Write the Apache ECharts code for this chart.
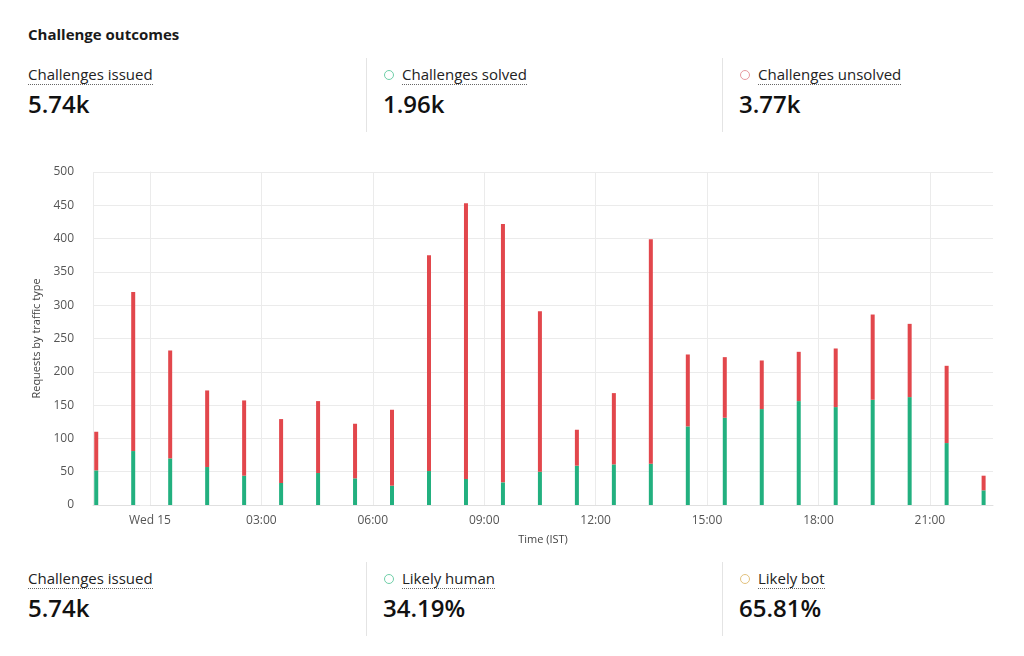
<!DOCTYPE html>
<html>
<head>
<meta charset="utf-8">
<script src="https://cdn.jsdelivr.net/npm/echarts@6.0.0/dist/echarts.min.js"></script>
<style>
  html, body { margin: 0; padding: 0; background: #fff; }
  body { width: 1024px; height: 656px; position: relative; overflow: hidden;
         font-family: "Open Sans", "Noto Sans", sans-serif; color: #1a1a1a; }
  .title { position: absolute; left: 28px; top: 25px; font-size: 15px; line-height: 18px; font-weight: 700; }
  .lbl { position: absolute; font-size: 15px; line-height: 18px; color: #222;
         border-bottom: 1px dotted #666; padding-bottom: 1px; white-space: nowrap; }
  .val { position: absolute; font-size: 24px; line-height: 30px; font-weight: 600; color: #111; }
  .dot { position: absolute; width: 8px; height: 8px; border-radius: 50%; border: 1.3px solid; }
  .sep { position: absolute; width: 1px; background: #e4e4e4; }
  #chart { position: absolute; left: 0; top: 150px; width: 1024px; height: 410px; }
</style>
</head>
<body>
<div class="title">Challenge outcomes</div>
<div id="stats"></div>
<div id="chart"></div>
<script>
// hourly buckets (IST)
var slots = ['2025-01-14 22:30','2025-01-14 23:30','2025-01-15 00:30','2025-01-15 01:30','2025-01-15 02:30',
  '2025-01-15 03:30','2025-01-15 04:30','2025-01-15 05:30','2025-01-15 06:30','2025-01-15 07:30',
  '2025-01-15 08:30','2025-01-15 09:30','2025-01-15 10:30','2025-01-15 11:30','2025-01-15 12:30',
  '2025-01-15 13:30','2025-01-15 14:30','2025-01-15 15:30','2025-01-15 16:30','2025-01-15 17:30',
  '2025-01-15 18:30','2025-01-15 19:30','2025-01-15 20:30','2025-01-15 21:30','2025-01-15 22:30'];
var solved = [52,81,70,57,44,33,48,40,29,51,39,34,50,59,61,62,118,131,144,156,147,158,162,93,22];
var unsolved = [58,239,162,115,113,96,108,82,114,324,414,388,241,54,107,337,108,91,73,74,88,128,110,116,22];

var topStats = [
  {label: 'Challenges issued', value: '5.74k', dot: null},
  {label: 'Challenges solved', value: '1.96k', dot: '#6fcfa8'},
  {label: 'Challenges unsolved', value: '3.77k', dot: '#e79aa0'}
];
var bottomStats = [
  {label: 'Challenges issued', value: '5.74k', dot: null},
  {label: 'Likely human', value: '34.19%', dot: '#6fcfa8'},
  {label: 'Likely bot', value: '65.81%', dot: '#e3c27e'}
];

var colX = [28, 383, 739];

function addStats(list, dy){
  var box = document.getElementById('stats');
  var html = '';
  list.forEach(function(s, i){
    var x = colX[i];
    var tx = x;
    if (s.dot) {
      html += '<div class="dot" style="left:' + (x + 1) + 'px;top:' + (70 + dy) + 'px;border-color:' + s.dot + '"></div>';
      tx = x + 19;
    }
    html += '<div class="lbl" style="left:' + tx + 'px;top:' + (65 + dy) + 'px">' + s.label + '</div>';
    html += '<div class="val" style="left:' + x + 'px;top:' + (89 + dy) + 'px">' + s.value + '</div>';
  });
  html += '<div class="sep" style="left:366px;top:' + (58 + dy) + 'px;height:74px"></div>';
  html += '<div class="sep" style="left:722px;top:' + (58 + dy) + 'px;height:74px"></div>';
  box.innerHTML += html;
}
addStats(topStats, 0);
addStats(bottomStats, 504);

// window shown, in minutes from Wed 15 00:00
var winStart = -92, winEnd = 1362;
var day0 = +new Date(2025, 0, 15, 0, 0);

var solvedData = [], unsolvedData = [];
slots.forEach(function(s, i){
  solvedData.push([s, solved[i]]);
  unsolvedData.push([s, unsolved[i]]);
});

var gridColor = '#ebebeb';
var mychart = echarts.init(document.getElementById('chart'));
var options = {
  animation: false,
  textStyle: { fontFamily: '"Open Sans", "Noto Sans", sans-serif' },
  grid: { left: 93, right: 31, top: 22, bottom: 55 },
  xAxis: [{
    // visible axis: 3-hour grid and labels
    type: 'value',
    min: winStart,
    max: winEnd,
    minInterval: 180,
    maxInterval: 180,
    name: 'Time (IST)',
    nameLocation: 'middle',
    nameGap: 29,
    nameTextStyle: { color: '#444', fontSize: 11 },
    axisLine: { show: true, lineStyle: { color: '#e0e0e0' } },
    axisTick: { show: false },
    splitLine: { show: true, showMaxLine: false, lineStyle: { color: gridColor } },
    axisLabel: {
      color: '#555',
      fontSize: 12,
      margin: 10,
      showMinLabel: false,
      showMaxLabel: false,
      formatter: function(v){
        if (v % 60 !== 0) return '';
        if (v === 0) return 'Wed 15';
        var h = (((v / 60) % 24) + 24) % 24;
        return (h < 10 ? '0' : '') + h + ':00';
      }
    }
  }, {
    // same window as a time axis, carries the bars
    type: 'time',
    show: false,
    min: day0 + winStart * 60000,
    max: day0 + winEnd * 60000
  }],
  yAxis: {
    type: 'value',
    min: 0,
    max: 500,
    interval: 50,
    name: 'Requests by traffic type',
    nameLocation: 'middle',
    nameGap: 45,
    nameTextStyle: { color: '#444', fontSize: 11 },
    axisLine: { show: true, lineStyle: { color: gridColor } },
    axisTick: { show: true, length: 10, lineStyle: { color: gridColor } },
    splitLine: { lineStyle: { color: gridColor } },
    axisLabel: { color: '#555', fontSize: 12, margin: 19 }
  },
  series: [{
    name: 'Challenges solved',
    type: 'bar',
    xAxisIndex: 1,
    stack: 'total',
    barWidth: 4,
    data: solvedData,
    itemStyle: { color: '#22b07f' }
  }, {
    name: 'Challenges unsolved',
    type: 'bar',
    xAxisIndex: 1,
    stack: 'total',
    barWidth: 4,
    data: unsolvedData,
    itemStyle: { color: '#e2474c' }
  }]
};
mychart.setOption(options);
</script>
</body>
</html>
